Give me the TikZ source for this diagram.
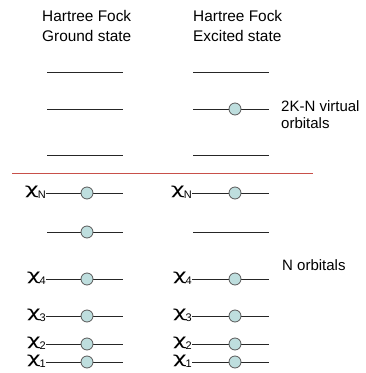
\documentclass[tikz,border=0pt]{standalone}
\usepackage{fontspec}
\setmainfont{Liberation Sans}
\newfontfamily\chifont{DejaVu Sans}
\begin{document}
\begin{tikzpicture}[x=1pt,y=-1pt,
  level/.style={draw=black!85,line width=0.9pt},
  electron/.style={circle,draw=black!65,fill=elfill,line width=0.8pt,minimum size=12pt,inner sep=0pt},
  title/.style={font=\fontsize{15.4}{19.3}\selectfont,align=left,anchor=base west,inner sep=0pt},
  note/.style={font=\fontsize{15}{17}\selectfont,align=left,anchor=base west,inner sep=0pt},
  orblabel/.style={anchor=base east,inner sep=0pt}]
\definecolor{elfill}{HTML}{BEDEDE}
\definecolor{divider}{HTML}{C8504A}
\useasboundingbox (0,0) rectangle (365,373);
% orbital label: a wide chi with a lowered index
\newcommand{\chiorb}[1]{\scalebox{1.55}[1]{\chifont\fontsize{15.5}{15.5}\selectfont χ}\kern-1pt\raisebox{-3.5pt}{\fontsize{11}{11}\selectfont #1}}

% column headings (base anchor sits on the second line)
\node[title] (tg) at (42,41) {Hartree Fock\\Ground state};
\node[title] (te) at (193,41) {Hartree Fock\\Excited state};

% virtual levels
\foreach \y/\n in {72/a,109/b,155/c}{
  \coordinate (gl\n) at (47,\y); \coordinate (gr\n) at (123,\y);
  \coordinate (el\n) at (193,\y); \coordinate (er\n) at (269,\y);
  \draw[level] (gl\n) -- (gr\n);
  \draw[level] (el\n) -- (er\n);
}
\node[electron] (ev) at (235,109) {};

% divider between virtual and occupied orbitals
\coordinate (dl) at (12,173); \coordinate (dr) at (313,173);
\draw[divider,line width=0.8pt] (dl) -- (dr);

% occupied levels, ground and excited state
\foreach \y/\n/\s in {193/N/N,279/4/4,316/3/3,344/2/2,362/1/1}{
  \node[orblabel] (lg\n) at (46,\y+1.7) {\chiorb{\s}};
  \coordinate (gs\n) at (46,\y); \coordinate (ge\n) at (123,\y);
  \draw[level] (gs\n) -- (ge\n);
  \node[electron] (cg\n) at (87,\y) {};
  \node[orblabel] (le\n) at (192,\y+1.7) {\chiorb{\s}};
  \coordinate (es\n) at (192,\y); \coordinate (ee\n) at (269,\y);
  \draw[level] (es\n) -- (ee\n);
  \node[electron] (ce\n) at (235,\y) {};
}
\coordinate (gsm) at (47,232); \coordinate (gem) at (123,232);
\draw[level] (gsm) -- (gem);
\node[electron] (cgm) at (87,232) {};
\coordinate (esm) at (193,232); \coordinate (eem) at (269,232);
\draw[level] (esm) -- (eem);

% side notes
\node[note] (nv) at (281,128.5) {2K-N virtual\\orbitals};
\node[note] (no) at (282,270) {N orbitals};
\end{tikzpicture}
\end{document}
